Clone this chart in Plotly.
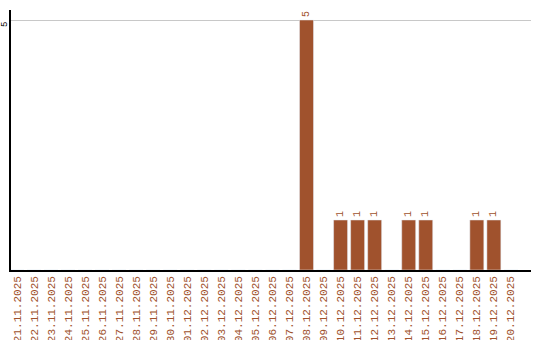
import plotly.graph_objects as go

dates = ["21.11.2025","22.11.2025","23.11.2025","24.11.2025","25.11.2025","26.11.2025",
         "27.11.2025","28.11.2025","29.11.2025","30.11.2025","01.12.2025","02.12.2025",
         "03.12.2025","04.12.2025","05.12.2025","06.12.2025","07.12.2025","08.12.2025",
         "09.12.2025","10.12.2025","11.12.2025","12.12.2025","13.12.2025","14.12.2025",
         "15.12.2025","16.12.2025","17.12.2025","18.12.2025","19.12.2025","20.12.2025"]
counts = [0,0,0,0,0,0,0,0,0,0,0,0,0,0,0,0,0,5,0,1,1,1,0,1,1,0,0,1,1,0]
y_ticks = [5]

color = "#a0522d"
labels = [str(v) if v else "" for v in counts]

fig = go.Figure(go.Bar(
    x=list(range(len(dates))), y=counts, marker_color=color, width=0.82,
    text=labels, textposition="outside", textangle=-90, cliponaxis=False,
    textfont=dict(family="Liberation Mono", size=10, color=color),
))
for t in y_ticks:
    fig.add_annotation(x=0, xref="paper", y=t, yref="y", text=str(t), showarrow=False,
                       textangle=-90, xanchor="center", yanchor="middle", xshift=-6, yshift=-5,
                       borderpad=0, font=dict(family="Liberation Mono", size=9, color="black"))
fig.update_layout(
    width=540, height=340, margin=dict(l=11, r=9, t=10, b=70),
    plot_bgcolor="white", paper_bgcolor="white", showlegend=False,
    xaxis=dict(range=[-0.35, 30.18], tickvals=list(range(len(dates))), ticktext=dates,
               tickangle=-90, tickfont=dict(family="Liberation Mono", size=11, color=color),
               showline=True, linecolor="black", linewidth=1.5, showgrid=False, ticks="",
               zeroline=False, automargin=False),
    yaxis=dict(range=[0, 5.2], tickvals=y_ticks, showticklabels=False,
               showline=True, linecolor="black", linewidth=1.5, showgrid=True,
               gridcolor="#c8c8c8", ticks="", zeroline=False, automargin=False),
)
fig.write_html("out.html")
